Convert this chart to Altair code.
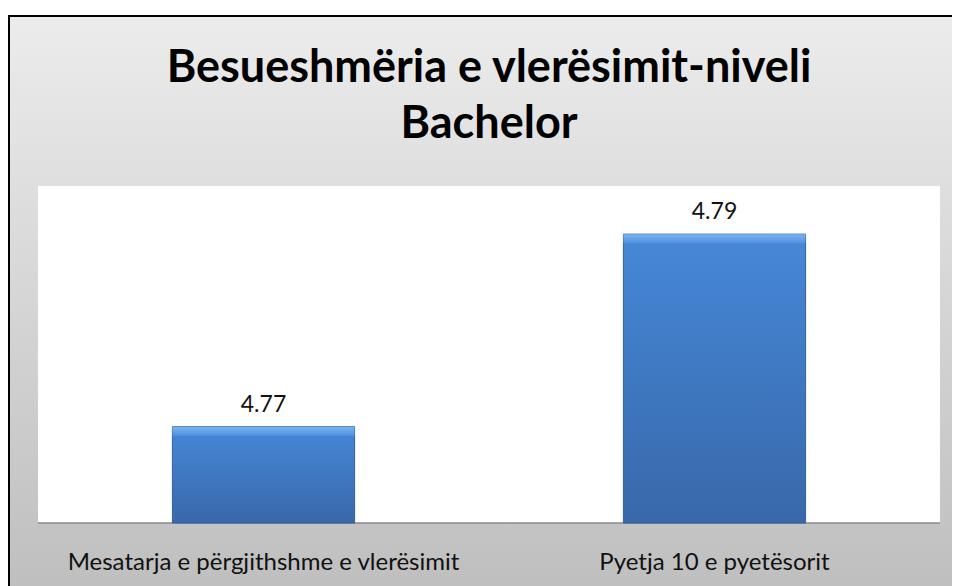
import altair as alt
import pandas as pd

categories = ["Mesatarja e përgjithshme e vlerësimit", "Pyetja 10 e pyetësorit"]
values = [4.77, 4.79]
value_labels = ["4.77", "4.79"]
axis_min = 4.76
axis_max = 4.795
title_lines = ["Besueshmëria e vlerësimit-niveli", "Bachelor"]

df = pd.DataFrame({"Category": categories, "Value": values, "Label": value_labels})

W, H = 902, 337
PAD = {"left": 30, "top": 178, "right": 12, "bottom": 63}
FONT = "Lato"

frame_grad = alt.LinearGradient(
    gradient="linear", x1=0, x2=0, y1=0, y2=1,
    stops=[alt.GradientStop(color="#ececec", offset=0),
           alt.GradientStop(color="#bfbfbf", offset=1)])
bar_grad = alt.LinearGradient(
    gradient="linear", x1=0, x2=0, y1=0, y2=1,
    stops=[alt.GradientStop(color="#4688d8", offset=0),
           alt.GradientStop(color="#3868aa", offset=1)])
bevel_grad = alt.LinearGradient(
    gradient="linear", x1=0, x2=0, y1=0, y2=1,
    stops=[alt.GradientStop(color="#80b8f2", offset=0),
           alt.GradientStop(color="#5293e0", offset=1)])

one = alt.Data(values=[{}])
right_edge = W + PAD["right"]
bottom_edge = H + PAD["bottom"]

frame = alt.Chart(one).mark_rect(fill=frame_grad).encode(
    x=alt.value(-30), x2=alt.value(right_edge), y=alt.value(-171), y2=alt.value(bottom_edge))
border_left = alt.Chart(one).mark_rule(color="black", strokeWidth=2).encode(
    x=alt.value(-29), y=alt.value(-171), y2=alt.value(bottom_edge))
border_top = alt.Chart(one).mark_rule(color="black", strokeWidth=2).encode(
    x=alt.value(-30), x2=alt.value(right_edge), y=alt.value(-170))

plot_bg = alt.Chart(one).mark_rect(fill="white").encode(
    x=alt.value(0), x2=alt.value(W), y=alt.value(0), y2=alt.value(H))

base_line = alt.Chart(one).mark_rule(color="#8a8a8a", strokeWidth=1.5).encode(
    x=alt.value(0), x2=alt.value(W), y=alt.value(H))

title1 = alt.Chart(alt.Data(values=[{"t": title_lines[0]}])).mark_text(
    font=FONT, fontSize=45, fontWeight="bold", color="black", baseline="alphabetic",
    align="center").encode(x=alt.value(W / 2), y=alt.value(-104), text="t:N")
title2 = alt.Chart(alt.Data(values=[{"t": title_lines[1]}])).mark_text(
    font=FONT, fontSize=45, fontWeight="bold", color="black", baseline="alphabetic",
    align="center").encode(x=alt.value(W / 2), y=alt.value(-48), text="t:N")

xenc = alt.X("Category:N", sort=None,
             scale=alt.Scale(paddingInner=0.596, paddingOuter=0.298),
             axis=alt.Axis(title=None, labelAngle=0, domain=False, ticks=False,
                           labelFontSize=24, labelFont=FONT, labelColor="#111111",
                           labelPadding=46, labelBaseline="alphabetic",
                           labelLimit=0, zindex=1, grid=False))
yscale = alt.Scale(domain=[axis_min, axis_max], zero=False, nice=False)

bars = alt.Chart(df).mark_bar(fill=bar_grad, stroke="#34619c", strokeWidth=1).encode(
    x=xenc, y=alt.Y("Value:Q", scale=yscale, axis=None), y2=alt.datum(axis_min))

bevel = alt.Chart(df).mark_bar(fill=bevel_grad, y2Offset=9, opacity=0.9).encode(
    x=alt.X("Category:N", sort=None), y=alt.Y("Value:Q", scale=yscale, axis=None),
    y2=alt.Y2("Value:Q"))

labels = alt.Chart(df).mark_text(font=FONT, fontSize=23, color="#111111", dy=-15,
                                 baseline="alphabetic").encode(
    x=alt.X("Category:N", sort=None), y=alt.Y("Value:Q", scale=yscale, axis=None),
    text="Label:N")

chart = alt.layer(frame, border_left, border_top, plot_bg, base_line, title1, title2,
                  bars, bevel, labels).properties(
    width=W, height=H,
    autosize=alt.AutoSizeParams(type="none"),
    padding=PAD,
).configure_view(stroke=None).configure(background="white")

chart.save("out.html", embed_options={"renderer": "svg", "actions": False})
